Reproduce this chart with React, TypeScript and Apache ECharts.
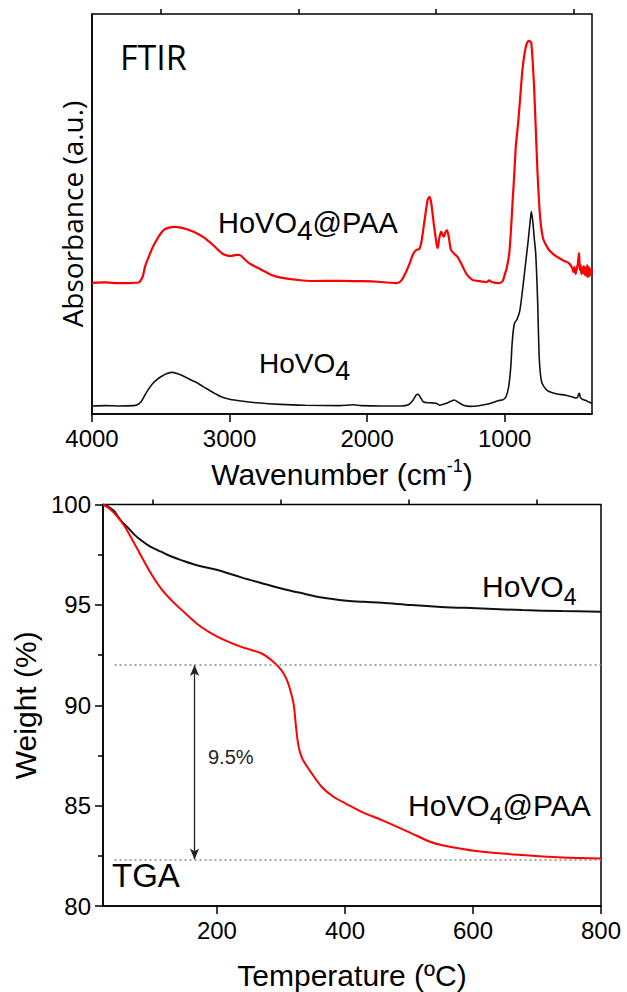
import React, { useEffect, useRef } from "react";
import * as echarts from "echarts";

// ---------- FTIR data ----------
const WN_HOVO4 = [4000, 3900, 3800, 3700, 3674, 3645, 3615, 3585, 3557, 3528, 3499, 3455, 3412, 3370, 3325, 3280, 3237, 3195, 3150, 3105, 3062, 3000, 2917, 2800, 2627, 2450, 2200, 2100, 2044, 1900, 1753, 1700, 1665, 1643, 1628, 1610, 1590, 1550, 1500, 1470, 1430, 1390, 1366, 1340, 1300, 1250, 1200, 1150, 1100, 1050, 1010, 990, 970, 955, 945, 930, 910, 890, 870, 850, 830, 815, 806, 795, 785, 774, 760, 750, 740, 728, 700, 678, 620, 557, 500, 484, 470, 462, 456, 450, 440, 420, 400, 375, 365];
const ABS_HOVO4 = [0.020, 0.021, 0.020, 0.021, 0.0225, 0.030, 0.0475, 0.064, 0.077, 0.086, 0.093, 0.101, 0.104, 0.100, 0.093, 0.085, 0.078, 0.069, 0.060, 0.051, 0.043, 0.037, 0.0325, 0.028, 0.024, 0.022, 0.021, 0.023, 0.021, 0.020, 0.020, 0.023, 0.035, 0.0475, 0.049, 0.040, 0.030, 0.028, 0.027, 0.022, 0.026, 0.032, 0.035, 0.030, 0.022, 0.019, 0.020, 0.023, 0.027, 0.033, 0.036, 0.043, 0.070, 0.120, 0.180, 0.225, 0.237, 0.258, 0.310, 0.370, 0.430, 0.480, 0.506, 0.480, 0.440, 0.400, 0.280, 0.150, 0.100, 0.077, 0.062, 0.056, 0.050, 0.047, 0.042, 0.040, 0.042, 0.050, 0.052, 0.042, 0.038, 0.035, 0.032, 0.028, 0.027];

const WN_PAA = [4000, 3900, 3800, 3700, 3660, 3630, 3615, 3585, 3557, 3525, 3499, 3470, 3441, 3400, 3354, 3310, 3266, 3230, 3193, 3155, 3120, 3085, 3048, 3015, 2990, 2950, 2925, 2890, 2859, 2800, 2742, 2690, 2627, 2500, 2395, 2200, 2044, 1900, 1782, 1750, 1724, 1695, 1665, 1643, 1620, 1605, 1580, 1560, 1547, 1535, 1515, 1495, 1487, 1475, 1462, 1450, 1443, 1430, 1419, 1405, 1390, 1365, 1342, 1310, 1281, 1255, 1233, 1180, 1130, 1112, 1095, 1040, 1015, 1004, 985, 967, 955, 943, 930, 919, 900, 885, 871, 858, 846, 834, 822, 810, 806, 796, 786, 774, 762, 750, 738, 721, 700, 678, 640, 605, 570, 533, 509, 500, 492, 484, 476, 468, 462, 458, 454, 448, 442, 436, 430, 424, 418, 412, 406, 400, 394, 388, 382, 376, 370, 365];
const ABS_PAA = [0.328, 0.329, 0.327, 0.328, 0.329, 0.345, 0.368, 0.395, 0.418, 0.438, 0.452, 0.462, 0.466, 0.468, 0.466, 0.462, 0.456, 0.450, 0.443, 0.433, 0.4225, 0.411, 0.400, 0.396, 0.395, 0.398, 0.3975, 0.387, 0.377, 0.366, 0.356, 0.347, 0.341, 0.335, 0.3325, 0.333, 0.332, 0.330, 0.327, 0.334, 0.350, 0.373, 0.400, 0.410, 0.413, 0.430, 0.490, 0.535, 0.543, 0.530, 0.475, 0.425, 0.415, 0.440, 0.456, 0.447, 0.443, 0.455, 0.460, 0.440, 0.410, 0.400, 0.393, 0.372, 0.352, 0.341, 0.335, 0.332, 0.330, 0.334, 0.330, 0.327, 0.332, 0.343, 0.365, 0.400, 0.455, 0.527, 0.600, 0.668, 0.735, 0.800, 0.860, 0.895, 0.918, 0.930, 0.933, 0.930, 0.927, 0.880, 0.818, 0.715, 0.610, 0.530, 0.477, 0.439, 0.423, 0.410, 0.398, 0.390, 0.383, 0.377, 0.365, 0.355, 0.368, 0.350, 0.362, 0.375, 0.395, 0.402, 0.360, 0.372, 0.350, 0.366, 0.352, 0.370, 0.348, 0.366, 0.345, 0.372, 0.342, 0.368, 0.345, 0.362, 0.350, 0.360];

const WN_MAJOR_TICKS = [1000, 2000, 3000, 4000];
const WN_MINOR_TICKS = [500, 1500, 2500, 3500];

// ---------- TGA data ----------
const T_HOVO4 = [22, 30, 40, 43.5, 52, 62, 71, 81, 96, 112.5, 128, 144, 170, 201, 238, 270, 300.6, 330, 363.5, 402.5, 430, 457.6, 504, 550, 605, 677, 740, 800];
const W_HOVO4 = [100, 99.9, 99.65, 99.48, 99.12, 98.81, 98.5, 98.23, 97.9, 97.65, 97.42, 97.23, 96.96, 96.74, 96.37, 96.08, 95.82, 95.6, 95.37, 95.21, 95.15, 95.11, 94.99, 94.9, 94.83, 94.74, 94.69, 94.66];

const T_PAA = [22, 32, 43.5, 56, 75, 93.7, 112.5, 131, 156.5, 175, 201, 238, 269, 288, 300.6, 308, 313, 319.6, 323, 326, 329, 334, 344.6, 363.5, 382, 402.5, 426, 457.6, 504, 533, 552, 605, 677, 740, 800];
const W_PAA = [100, 99.8, 99.43, 98.9, 97.82, 96.74, 95.82, 95.16, 94.41, 93.91, 93.41, 92.91, 92.59, 92.17, 91.75, 91.35, 90.92, 90.09, 89.1, 88.25, 87.75, 87.3, 86.77, 85.94, 85.44, 85.08, 84.69, 84.28, 83.62, 83.2, 83.03, 82.74, 82.54, 82.42, 82.37];

const T_MAJOR_TICKS = [200, 400, 600, 800];
const T_MINOR_TICKS = [100, 300, 500, 700];

const LEVEL_START = 92.0;
const LEVEL_END = 82.32;
const LOSS_LABEL = "9.5%";
const ARROW_T = 165;
const DOTTED_FROM_T = 40;

const ARIAL = "'Liberation Sans', Arial, sans-serif";
const SEGOE = "'Open Sans', 'Noto Sans', sans-serif";

const zip = (a: number[], b: number[]) => a.map((v, i) => [v, b[i]]);

const textWidth = (text: string, font: string) =>
  new (echarts.graphic as any).Text({ style: { text, font } }).getBoundingRect().width;

// label made of [text, isSubscript] parts, x = left edge, y = cap centre
const chemLabel = (x: number, y: number, parts: [string, boolean][], fs: number, sfs: number, shift: number) => {
  const children: any[] = [];
  let cx = 0;
  for (const [t, isSub] of parts) {
    const font = `${isSub ? sfs : fs}px ${ARIAL}`;
    children.push({
      type: "text", x: cx, y: isSub ? shift : 0,
      style: { text: t, font, fill: "#000", align: "left", verticalAlign: "middle" },
    });
    cx += textWidth(t, font);
  }
  return { type: "group", x, y, children };
};

export default function App() {
  const ref = useRef<HTMLDivElement>(null);
  useEffect(() => {
    if (!ref.current) return;
    const chart = echarts.init(ref.current, null, { renderer: "svg" });
    const axisLineStyle = { color: "#000", width: 1.5 };
    const option: any = {
      animation: false,
      backgroundColor: "#fff",
      grid: [
        { left: 92, top: 14, width: 500, height: 400, show: true, borderColor: "#000", borderWidth: 1.5, containLabel: false },
        { left: 103, top: 504.5, width: 498, height: 401.5, show: true, borderColor: "#000", borderWidth: 1.5, containLabel: false },
      ],
      xAxis: [
        {
          gridIndex: 0, type: "value", min: 365, max: 4000, inverse: true,
          axisLine: { show: true, lineStyle: axisLineStyle },
          axisTick: { show: true, length: 8, customValues: WN_MAJOR_TICKS, lineStyle: axisLineStyle },
          axisLabel: { customValues: WN_MAJOR_TICKS, fontSize: 24, color: "#000", fontFamily: ARIAL, margin: 12, formatter: (v: number) => String(v) },
          splitLine: { show: false },
          name: "Wavenumber (cm{sup|-1})", nameLocation: "middle", nameGap: 43,
          nameTextStyle: {
            fontSize: 30, fontFamily: ARIAL, color: "#000", lineHeight: 34,
            rich: { sup: { fontSize: 18, fontFamily: ARIAL, color: "#000", lineHeight: 14, verticalAlign: "top" } },
          },
        },
        {
          gridIndex: 0, type: "value", min: 365, max: 4000, inverse: true,
          axisLine: { show: false },
          axisTick: { show: true, length: 5, customValues: WN_MINOR_TICKS, lineStyle: axisLineStyle },
          axisLabel: { show: false },
          splitLine: { show: false },
        },
        {
          gridIndex: 1, type: "value", min: 22, max: 800,
          axisLine: { show: true, lineStyle: axisLineStyle },
          axisTick: { show: true, length: 8, customValues: T_MAJOR_TICKS, lineStyle: axisLineStyle },
          axisLabel: { customValues: T_MAJOR_TICKS, fontSize: 24, color: "#000", fontFamily: ARIAL, margin: 12, formatter: (v: number) => String(v) },
          splitLine: { show: false },
          name: "Temperature (ºC)", nameLocation: "middle", nameGap: 54,
          nameTextStyle: { fontSize: 30, fontFamily: ARIAL, color: "#000" },
        },
        {
          gridIndex: 1, type: "value", min: 22, max: 800,
          axisLine: { show: false },
          axisTick: { show: true, length: 5, customValues: T_MINOR_TICKS, lineStyle: axisLineStyle },
          axisLabel: { show: false },
          splitLine: { show: false },
        },
      ],
      yAxis: [
        {
          gridIndex: 0, type: "value", min: 0, max: 1,
          axisLine: { show: true, lineStyle: axisLineStyle },
          axisTick: { show: false }, axisLabel: { show: false }, splitLine: { show: false },
          name: "Absorbance (a.u.)", nameLocation: "middle", nameGap: 6,
          nameTextStyle: { fontSize: 28, fontFamily: SEGOE, color: "#000" },
        },
        {
          gridIndex: 1, type: "value", min: 80, max: 100, interval: 5,
          axisLine: { show: true, lineStyle: axisLineStyle },
          axisTick: { show: true, length: 8, lineStyle: axisLineStyle },
          minorTick: { show: true, splitNumber: 2, length: 5, lineStyle: axisLineStyle },
          axisLabel: { fontSize: 24, color: "#000", fontFamily: ARIAL, margin: 12 },
          splitLine: { show: false },
          name: "Weight (%)", nameLocation: "middle", nameGap: 61,
          nameTextStyle: { fontSize: 30, fontFamily: ARIAL, color: "#000" },
        },
      ],
      series: [
        {
          name: "HoVO4 FTIR", type: "line", xAxisIndex: 0, yAxisIndex: 0,
          data: zip(WN_HOVO4, ABS_HOVO4), showSymbol: false, smooth: 0.25,
          lineStyle: { color: "#111", width: 1.6 },
        },
        {
          name: "HoVO4@PAA FTIR", type: "line", xAxisIndex: 0, yAxisIndex: 0,
          data: zip(WN_PAA, ABS_PAA), showSymbol: false, smooth: 0.25,
          lineStyle: { color: "#ff0000", width: 2.2 },
        },
        {
          name: "HoVO4 TGA", type: "line", xAxisIndex: 2, yAxisIndex: 1,
          data: zip(T_HOVO4, W_HOVO4), showSymbol: false, smooth: 0.35,
          lineStyle: { color: "#111", width: 2 },
          markLine: {
            silent: true, animation: false,
            symbol: ["arrow", "arrow"], symbolSize: [7, 11],
            label: { show: false },
            lineStyle: { type: "solid", color: "#222", width: 1.3 },
            data: [[{ coord: [ARROW_T, LEVEL_START] }, { coord: [ARROW_T, LEVEL_END] }]],
          },
        },
        {
          name: "HoVO4@PAA TGA", type: "line", xAxisIndex: 2, yAxisIndex: 1,
          data: zip(T_PAA, W_PAA), showSymbol: false, smooth: 0.3,
          lineStyle: { color: "#ff0000", width: 2 },
          markLine: {
            silent: true, animation: false, symbol: "none",
            label: { show: false },
            lineStyle: { type: [2, 3], color: "#888", width: 1.5 },
            data: [
              [{ coord: [DOTTED_FROM_T, LEVEL_START] }, { coord: [800, LEVEL_START] }],
              [{ coord: [DOTTED_FROM_T, LEVEL_END] }, { coord: [800, LEVEL_END] }],
            ],
          },
        },
      ],
      graphic: [
        { type: "text", x: 120, y: 57, style: { text: "FTIR", font: `34px ${SEGOE}`, fill: "#000", align: "left", verticalAlign: "middle" } },
        chemLabel(218, 223.3, [["HoVO", false], ["4", true], ["@PAA", false]], 29, 28, 7.5),
        chemLabel(259, 363.5, [["HoVO", false], ["4", true]], 28, 27, 7.5),
        chemLabel(482, 586, [["HoVO", false], ["4", true]], 30, 23, 10.5),
        chemLabel(408, 805.5, [["HoVO", false], ["4", true], ["@PAA", false]], 30, 23, 10.5),
        { type: "text", x: 112, y: 875, style: { text: "TGA", font: `33px ${ARIAL}`, fill: "#000", align: "left", verticalAlign: "middle" } },
        { type: "text", x: 208, y: 757, style: { text: LOSS_LABEL, font: `20px ${ARIAL}`, fill: "#222", align: "left", verticalAlign: "middle" } },
      ],
    };
    chart.setOption(option);
    return () => chart.dispose();
  }, []);
  return <div ref={ref} style={{ position: "absolute", left: 0, top: 0, width: 627, height: 992 }} />;
}
